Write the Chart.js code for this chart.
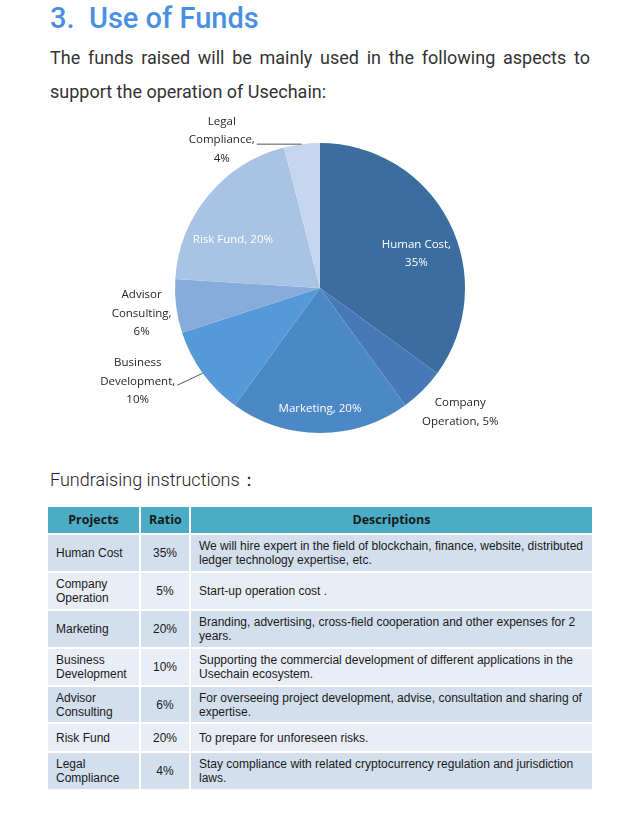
<!DOCTYPE html>
<html>
<head>
<meta charset="utf-8">
<script src="https://cdn.jsdelivr.net/npm/chart.js@4/dist/chart.umd.min.js"></script>
<style>
    body { margin: 0; background: #ffffff; width: 640px; height: 834px; position: relative; overflow: hidden; font-family: "Noto Sans", sans-serif; }
    h1 { position: absolute; left: 50px; top: 0px; margin: 0; font-family: Roboto, "Noto Sans", sans-serif; font-weight: 500; font-size: 29px; line-height: 36px; color: #4a90e2; white-space: pre; }
    .intro { position: absolute; left: 50px; top: 41px; width: 540px; margin: 0; font-family: Roboto, sans-serif; font-size: 18px; line-height: 34px; color: #333333; text-align: justify; text-align-last: left; }
    .sub { position: absolute; left: 50px; top: 468px; margin: 0; font-family: Roboto, sans-serif; font-weight: 300; font-size: 18px; color: #222; }
    #pieWrap { position: absolute; left: 0; top: 105px; width: 640px; height: 345px; }
    table { position: absolute; left: 46px; top: 505px; width: 548px; table-layout: fixed; border-collapse: collapse; font-family: "Liberation Sans", Arial, sans-serif; font-size: 12px; color: #1a1a1a; }
    td, th { border: 2px solid #ffffff; padding: 0 8px; line-height: 14px; }
    th { background: #4bacc6; font-family: "Open Sans", sans-serif; font-weight: 700; font-size: 12.5px; height: 26px; }
    td.c { text-align: center; padding: 0; }
    tr.d td { background: #d3dfed; }
    tr.l td { background: #e9eef6; }
</style>
</head>
<body>
<h1>3.  Use of Funds</h1>
<p class="intro">The funds raised will be mainly used in the following aspects to support the operation of Usechain:</p>
<div id="pieWrap"><canvas id="fundsChart"></canvas></div>
<p class="sub">Fundraising instructions：</p>
<table id="fundsTable">
    <colgroup><col style="width:93px"><col style="width:50px"><col></colgroup>
    <thead><tr><th>Projects</th><th>Ratio</th><th>Descriptions</th></tr></thead>
    <tbody></tbody>
</table>

<script>
// Use of funds data
const categories = ['Human Cost', 'Company Operation', 'Marketing', 'Business Development', 'Advisor Consulting', 'Risk Fund', 'Legal Compliance'];
const shares = [35, 5, 20, 10, 6, 20, 4];
const tableNames = ['Human Cost', 'Company\nOperation', 'Marketing', 'Business\nDevelopment', 'Advisor\nConsulting', 'Risk Fund', 'Legal\nCompliance'];
const descriptions = [
    'We will hire expert in the field of blockchain, finance, website, distributed ledger technology expertise, etc.',
    'Start-up operation cost .',
    'Branding, advertising, cross-field cooperation and other expenses for 2 years.',
    'Supporting the commercial development of different applications in the Usechain ecosystem.',
    'For overseeing project development, advise, consultation and sharing of expertise.',
    'To prepare for unforeseen risks.',
    'Stay compliance with related cryptocurrency regulation and jurisdiction laws.'
];
const pieLabels = [
    ['Human Cost,', '35%'],
    ['Company', 'Operation, 5%'],
    ['Marketing, 20%'],
    ['Business', 'Development,', '10%'],
    ['Advisor', 'Consulting,', '6%'],
    ['Risk Fund, 20%'],
    ['Legal', 'Compliance,', '4%']
];

const sliceColors = ['#3b6d9f', '#4779b9', '#4d88c6', '#5699d8', '#86acdc', '#a9c3e5', '#c6d6ee'];
// label placement: f = fraction of radius along slice middle, dx/dy nudges
const labelPlace = [
    { f: 0.70, dx: 6, dy: 12, color: '#ffffff' },
    { f: 1.29, dx: 8, dy: -8, color: '#262626' },
    { f: 0.83, dx: 0, dy: 0, color: '#ffffff' },
    { f: 1.0, dx: -65, dy: 8, color: '#262626', leader: 'right' },
    { f: 1.24, dx: 0, dy: 3, color: '#262626' },
    { f: 0.69, dx: -10, dy: 15, color: '#ffffff' },
    { f: 1.0, dx: -80, dy: -4, color: '#262626', leader: 'right' }
];

// Fill the table
const tbody = document.querySelector('#fundsTable tbody');
const rowHeights = [36, 36, 36, 36, 35, 27, 36];
tableNames.forEach((name, i) => {
    const tr = document.createElement('tr');
    tr.className = i % 2 === 0 ? 'd' : 'l';
    tr.innerHTML = `<td style="height:${rowHeights[i]}px">${name.replace('\n', '<br>')}</td>` +
        `<td class="c">${shares[i]}%</td><td>${descriptions[i]}</td>`;
    tbody.appendChild(tr);
});

const pieLabelPlugin = {
    id: 'pieLabels',
    afterDatasetsDraw(chart) {
        const ctx = chart.ctx;
        const meta = chart.getDatasetMeta(0);
        ctx.save();
        ctx.font = '11.5px "Open Sans", "Noto Sans", sans-serif';
        ctx.textBaseline = 'middle';
        ctx.textAlign = 'center';
        meta.data.forEach((arc, i) => {
            const mid = (arc.startAngle + arc.endAngle) / 2;
            const place = labelPlace[i];
            const edgeX = arc.x + Math.cos(mid) * arc.outerRadius;
            const edgeY = arc.y + Math.sin(mid) * arc.outerRadius;
            const x = arc.x + Math.cos(mid) * arc.outerRadius * place.f + place.dx;
            const y = arc.y + Math.sin(mid) * arc.outerRadius * place.f + place.dy;
            const lines = pieLabels[i];
            const lh = 18.5;
            ctx.fillStyle = place.color;
            lines.forEach((t, k) => {
                ctx.fillText(t, x, y + (k - (lines.length - 1) / 2) * lh);
            });
            if (place.leader) {
                const mw = ctx.measureText(lines[1] || lines[0]).width;
                ctx.strokeStyle = '#555555';
                ctx.lineWidth = 1;
                ctx.beginPath();
                ctx.moveTo(x + mw / 2 + 2, y + 4);
                ctx.lineTo(edgeX, edgeY);
                ctx.stroke();
            }
        });
        ctx.restore();
    }
};

new Chart(document.getElementById('fundsChart'), {
    type: 'pie',
    data: {
        labels: categories,
        datasets: [{
            data: shares,
            backgroundColor: sliceColors,
            borderWidth: 0
        }]
    },
    options: {
        responsive: true,
        maintainAspectRatio: false,
        animation: false,
        layout: { padding: { top: 38, bottom: 17, left: 0, right: 0 } },
        plugins: {
            legend: { display: false },
            tooltip: { enabled: false }
        }
    },
    plugins: [pieLabelPlugin]
});
</script>
</body>
</html>
